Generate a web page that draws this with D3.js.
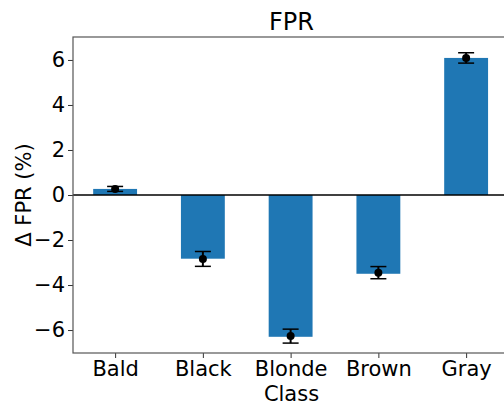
<!DOCTYPE html>
<html>
<head>
<meta charset="utf-8">
<script src="https://cdn.jsdelivr.net/npm/d3@7"></script>
<style>
  html, body { margin: 0; padding: 0; background: #fff; }
  svg { display: block; font-family: "DejaVu Sans", sans-serif; }
</style>
</head>
<body>
<svg id="chart" width="504" height="406"></svg>
<script>
// Change in false positive rate per hair-colour class
const classes = ["Bald", "Black", "Blonde", "Brown", "Gray"];
const barValues = [0.27, -2.83, -6.30, -3.50, 6.09];
const pointValues = [0.27, -2.84, -6.27, -3.45, 6.09];
const errValues = [0.11, 0.33, 0.31, 0.27, 0.23];
const yTicks = [-6, -4, -2, 0, 2, 4, 6];

const svg = d3.select("#chart");
const plotLeft = 73, plotRight = 510, plotTop = 37, plotBottom = 353;

const x = d3.scaleLinear().domain([-0.48, 4.5]).range([plotLeft, plotRight]);
const y = d3.scaleLinear().domain([-7.02, 7.02]).range([plotBottom, plotTop]);
const barW = x(0.5) - x(0);

const data = classes.map((c, i) => ({
  c, i, bar: barValues[i], pt: pointValues[i], err: errValues[i]
}));

// bars
svg.append("g").selectAll("rect").data(data).join("rect")
  .attr("x", d => x(d.i) - barW / 2)
  .attr("width", barW)
  .attr("y", d => y(Math.max(0, d.bar)))
  .attr("height", d => Math.abs(y(d.bar) - y(0)))
  .attr("fill", "#1f77b4");

// zero line
svg.append("line")
  .attr("x1", plotLeft).attr("x2", plotRight)
  .attr("y1", y(0)).attr("y2", y(0))
  .attr("stroke", "#000").attr("stroke-width", 1.5);

// error bars
const eb = svg.append("g").selectAll("g").data(data).join("g");
eb.append("line")
  .attr("x1", d => x(d.i)).attr("x2", d => x(d.i))
  .attr("y1", d => y(d.pt - d.err)).attr("y2", d => y(d.pt + d.err))
  .attr("stroke", "#000").attr("stroke-width", 2);
[-1, 1].forEach(s => {
  eb.append("line")
    .attr("x1", d => x(d.i) - 8).attr("x2", d => x(d.i) + 8)
    .attr("y1", d => y(d.pt + s * d.err)).attr("y2", d => y(d.pt + s * d.err))
    .attr("stroke", "#000").attr("stroke-width", 1.5);
});
eb.append("circle")
  .attr("cx", d => x(d.i)).attr("cy", d => y(d.pt))
  .attr("r", 4).attr("fill", "#000");

// axes
const xAxis = d3.axisBottom(x).tickValues(d3.range(classes.length))
  .tickFormat(i => classes[i]).tickSize(5).tickPadding(3);
const yAxis = d3.axisLeft(y).tickValues(yTicks)
  .tickFormat(v => v < 0 ? "\u2212" + Math.abs(v) : String(v)).tickSize(5).tickPadding(3);

const gx = svg.append("g").attr("transform", `translate(0,${plotBottom})`).call(xAxis);
const gy = svg.append("g").attr("transform", `translate(${plotLeft},0)`).call(yAxis);
[gx, gy].forEach(g => {
  g.select(".domain").remove();
  g.selectAll(".tick line").attr("stroke", "#333").attr("stroke-width", 1);
  g.selectAll(".tick text").attr("font-size", 21).attr("fill", "#000")
    .attr("font-family", "DejaVu Sans, sans-serif");
});

// frame
svg.append("rect")
  .attr("x", plotLeft).attr("y", plotTop)
  .attr("width", plotRight - plotLeft).attr("height", plotBottom - plotTop)
  .attr("fill", "none").attr("stroke", "#555").attr("stroke-width", 1.2);

// titles
svg.append("text").attr("x", (plotLeft + plotRight) / 2).attr("y", 30)
  .attr("text-anchor", "middle").attr("font-size", 24).text("FPR");
svg.append("text").attr("x", (plotLeft + plotRight) / 2).attr("y", 401)
  .attr("text-anchor", "middle").attr("font-size", 21).text("Class");
svg.append("text")
  .attr("transform", `translate(31,${(plotTop + plotBottom) / 2}) rotate(-90)`)
  .attr("text-anchor", "middle").attr("font-size", 21).text("\u0394 FPR (%)");
</script>
</body>
</html>
